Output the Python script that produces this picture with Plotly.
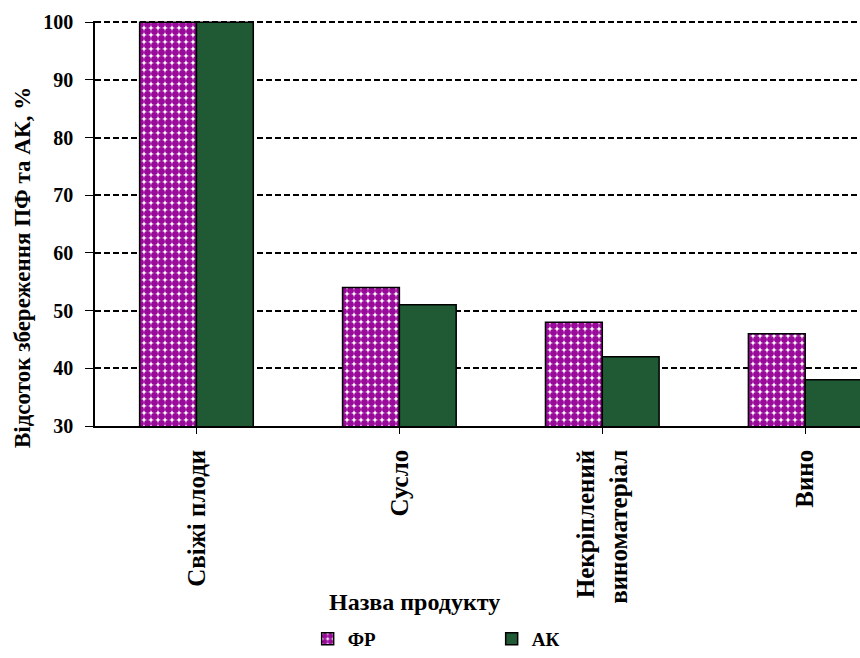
import plotly.graph_objects as go

categories = ["Свіжі плоди", "Сусло", "Некріплений<br>виноматеріал", "Вино"]
fr_values = [100, 54, 48, 46]
ak_values = [100, 51, 42, 38]
series_names = ["ФР", "АК"]
y_ticks = [30, 40, 50, 60, 70, 80, 90, 100]
x_title = "Назва продукту"
y_title = "Відсоток збереження ПФ та АК, %"

FONT = "Liberation Serif"
x_idx = list(range(len(categories)))

fig = go.Figure()
fig.add_trace(go.Bar(
    x=x_idx, y=fr_values, name=series_names[0],
    marker=dict(color="white", line=dict(color="black", width=1.5),
                pattern=dict(shape=".", fgcolor="#9a0a9a", bgcolor="white",
                             size=7, solidity=0.75, fillmode="replace")),
))
fig.add_trace(go.Bar(
    x=x_idx, y=ak_values, name=series_names[1],
    marker=dict(color="#1f5a34", line=dict(color="black", width=1.5)),
))

fig.update_layout(
    width=860, height=658,
    margin=dict(l=95, r=0, t=21, b=232, autoexpand=False),
    paper_bgcolor="white", plot_bgcolor="white",
    barmode="group", bargap=0.44, bargroupgap=0,
    font=dict(family=FONT, size=18, color="black"),
    showlegend=True,
    legend=dict(orientation="h", x=0.278, y=0.0, yref="container",
                xanchor="left", yanchor="bottom",
                entrywidth=139, entrywidthmode="pixels",
                font=dict(family=FONT, size=19, color="black", weight="bold")),
    annotations=[
        dict(text="<b>%s</b>" % x_title, xref="paper", yref="paper", x=0.417, y=-0.435,
             xanchor="center", yanchor="middle", showarrow=False,
             font=dict(family=FONT, size=24, color="black")),
        dict(text="<b>%s</b>" % y_title, xref="paper", yref="paper", x=-0.0954, y=0.39,
             xanchor="center", yanchor="middle", showarrow=False, textangle=-90,
             font=dict(family=FONT, size=23, color="black")),
    ],
)
fig.update_xaxes(
    range=[-0.5, 3.27],
    tickmode="array", tickvals=x_idx, ticktext=["<b>%s</b>" % c for c in categories],
    tickangle=-90, tickson="boundaries", ticks="outside", ticklen=6, tickcolor="black",
    showline=True, linecolor="black", linewidth=1.5, showgrid=False,
    tickfont=dict(family=FONT, size=25, color="black"), ticklabelstandoff=6,
)
fig.update_yaxes(
    range=[30, 100.2], tickmode="array", tickvals=y_ticks,
    ticktext=["<b>%d</b>" % v for v in y_ticks],
    ticks="outside", ticklen=8, tickcolor="black",
    showline=True, linecolor="black", linewidth=1.5,
    showgrid=True, gridcolor="black", gridwidth=1.5, griddash="6px,3px",
    zeroline=False,
    tickfont=dict(family=FONT, size=20, color="black"), ticklabelstandoff=8,
)

fig.write_html("out.html")
